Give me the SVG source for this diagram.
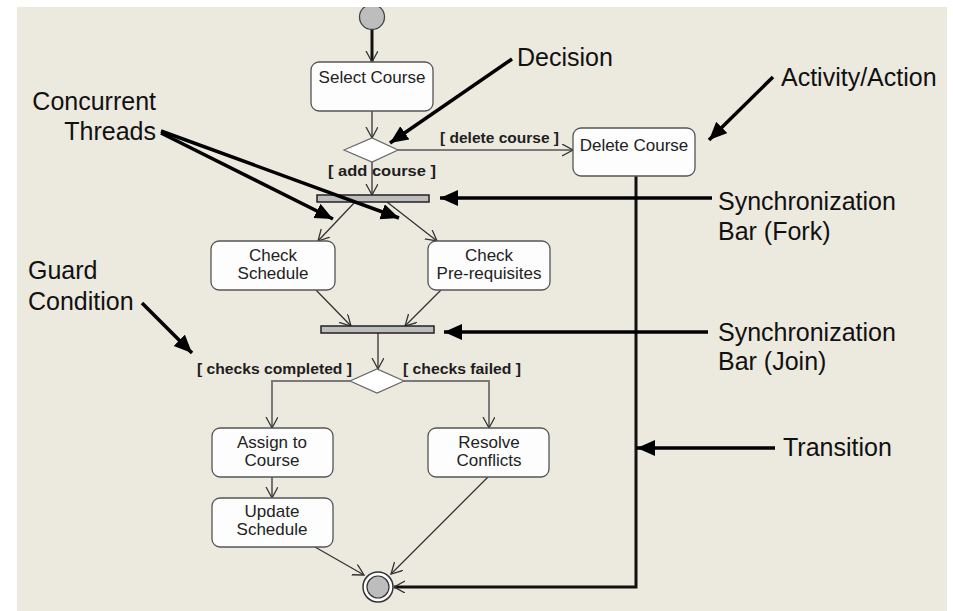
<svg xmlns="http://www.w3.org/2000/svg" width="953" height="611" viewBox="0 0 953 611">
  <style>
    .act { fill: #fdfdfd; stroke: #555; stroke-width: 1.3; }
    .lbl { font-family: "Liberation Sans", Arial, sans-serif; font-size: 17px; fill: #222; text-anchor: middle; }
    .guard { font-family: "Liberation Sans", Arial, sans-serif; font-size: 15px; font-weight: bold; fill: #1e1e1e; }
    .note { font-family: "Liberation Sans", Arial, sans-serif; font-size: 25px; fill: #111; }
    .flow { fill: none; stroke: #333; stroke-width: 1.3; marker-end: url(#open); }
    .branch { fill: none; stroke: #7a7a7a; stroke-width: 2; marker-end: url(#open); }
    .heavy { fill: none; stroke: #111; stroke-width: 3; marker-end: url(#open); }
    .callout { fill: none; stroke: #000; stroke-width: 3.5; marker-end: url(#solid); }
    .bar { fill: #bdbdbd; stroke: #222; stroke-width: 1.5; }
    .diamond { fill: #fff; stroke: #666; stroke-width: 1.2; }
  </style>
  <defs>
    <marker id="open" markerUnits="userSpaceOnUse" markerWidth="14" markerHeight="14" refX="11" refY="6" orient="auto">
      <path d="M0,0 L11,6 L0,12" fill="none" stroke="#333" stroke-width="1.3"/>
    </marker>
    <marker id="solid" markerUnits="userSpaceOnUse" markerWidth="20" markerHeight="18" refX="18" refY="8" orient="auto">
      <path d="M0,0 L18,8 L0,16 z" fill="#000"/>
    </marker>
    <clipPath id="panel-clip">
      <rect x="17" y="7" width="930" height="604"/>
    </clipPath>
  </defs>

  <!-- page and panel -->
  <rect x="0" y="0" width="953" height="611" fill="#fff"/>
  <rect x="17" y="7" width="930" height="604" fill="#ECE9DF"/>

  <!-- transitions -->
  <g id="connectors">
    <line class="heavy" x1="372" y1="29" x2="372" y2="62"/>
    <line class="flow" x1="372" y1="111" x2="372" y2="138"/>
    <line class="branch" x1="398" y1="150" x2="573" y2="150"/>
    <line class="flow" x1="372" y1="162" x2="372" y2="195"/>
    <line class="flow" x1="355" y1="202" x2="318" y2="241"/>
    <line class="flow" x1="387" y1="202" x2="437" y2="241"/>
    <line class="flow" x1="316" y1="290" x2="351" y2="326"/>
    <line class="flow" x1="441" y1="290" x2="405" y2="326"/>
    <line class="flow" x1="378" y1="333" x2="378" y2="369"/>
    <polyline class="branch" points="350,381 272,381 272,428"/>
    <polyline class="branch" points="404,381 489,381 489,428"/>
    <line class="flow" x1="272" y1="477" x2="272" y2="498"/>
    <line class="flow" x1="315" y1="547" x2="364" y2="575"/>
    <line class="flow" x1="488" y1="477" x2="391" y2="574"/>
    <polyline class="heavy" points="636,176 636,587 394,587"/>
  </g>

  <!-- guard conditions -->
  <g id="guards">
    <text class="guard" x="328" y="176" textLength="108" lengthAdjust="spacingAndGlyphs">[ add course ]</text>
    <text class="guard" x="440" y="143" textLength="119" lengthAdjust="spacingAndGlyphs">[ delete course ]</text>
    <text class="guard" x="197" y="374" textLength="155" lengthAdjust="spacingAndGlyphs">[ checks completed ]</text>
    <text class="guard" x="403" y="374" textLength="118" lengthAdjust="spacingAndGlyphs">[ checks failed ]</text>
  </g>

  <!-- nodes -->
  <g id="start">
    <circle cx="372" cy="17" r="12.5" fill="#bdbdbd" stroke="#444" stroke-width="1.3" clip-path="url(#panel-clip)"/>
  </g>
  <g id="select-course">
    <rect class="act" x="311" y="62" width="122" height="49" rx="8"/>
    <text class="lbl" x="372" y="83">Select Course</text>
  </g>
  <g id="decision-course">
    <polygon class="diamond" points="344,150 372,138 398,150 372,162"/>
  </g>
  <g id="delete-course">
    <rect class="act" x="573" y="128" width="122" height="48" rx="8"/>
    <text class="lbl" x="634" y="151">Delete Course</text>
  </g>
  <g id="fork-bar">
    <rect class="bar" x="317" y="195" width="112" height="7"/>
  </g>
  <g id="check-schedule">
    <rect class="act" x="211" y="241" width="124" height="49" rx="8"/>
    <text class="lbl" x="273" y="261">Check</text>
    <text class="lbl" x="273" y="279">Schedule</text>
  </g>
  <g id="check-prerequisites">
    <rect class="act" x="428" y="241" width="122" height="49" rx="8"/>
    <text class="lbl" x="489" y="261">Check</text>
    <text class="lbl" x="489" y="279">Pre-requisites</text>
  </g>
  <g id="join-bar">
    <rect class="bar" x="321" y="326" width="113" height="7"/>
  </g>
  <g id="decision-checks">
    <polygon class="diamond" points="350,381 377,369 404,381 377,393"/>
  </g>
  <g id="assign-course">
    <rect class="act" x="212" y="428" width="121" height="49" rx="8"/>
    <text class="lbl" x="272" y="448">Assign to</text>
    <text class="lbl" x="272" y="466">Course</text>
  </g>
  <g id="resolve-conflicts">
    <rect class="act" x="428" y="428" width="121" height="49" rx="8"/>
    <text class="lbl" x="489" y="448">Resolve</text>
    <text class="lbl" x="489" y="466">Conflicts</text>
  </g>
  <g id="update-schedule">
    <rect class="act" x="212" y="498" width="121" height="49" rx="8"/>
    <text class="lbl" x="272" y="517">Update</text>
    <text class="lbl" x="272" y="535">Schedule</text>
  </g>
  <g id="final">
    <circle cx="378" cy="587" r="15" fill="#fff" stroke="#333" stroke-width="1.5"/>
    <circle cx="378" cy="587" r="11" fill="#bdbdbd" stroke="#333" stroke-width="1.2"/>
  </g>

  <!-- explanatory callouts -->
  <g id="callouts">
    <line class="callout" x1="512" y1="59" x2="390" y2="143"/>
    <text class="note" x="517" y="66">Decision</text>

    <line class="callout" x1="773" y1="77" x2="709" y2="140"/>
    <text class="note" x="781" y="86">Activity/Action</text>

    <line class="callout" x1="161" y1="133" x2="333" y2="219"/>
    <line class="callout" x1="161" y1="131" x2="399" y2="218"/>
    <text class="note" x="156" y="110" text-anchor="end">Concurrent</text>
    <text class="note" x="156" y="140" text-anchor="end">Threads</text>

    <line class="callout" x1="712" y1="198" x2="440" y2="198"/>
    <text class="note" x="718" y="210">Synchronization</text>
    <text class="note" x="718" y="240">Bar (Fork)</text>

    <line class="callout" x1="142" y1="303" x2="192" y2="353"/>
    <text class="note" x="28" y="279">Guard</text>
    <text class="note" x="28" y="310">Condition</text>

    <line class="callout" x1="708" y1="332" x2="444" y2="332"/>
    <text class="note" x="718" y="341">Synchronization</text>
    <text class="note" x="718" y="370">Bar (Join)</text>

    <line class="callout" x1="775" y1="448" x2="637" y2="448"/>
    <text class="note" x="783" y="456">Transition</text>
  </g>
</svg>
